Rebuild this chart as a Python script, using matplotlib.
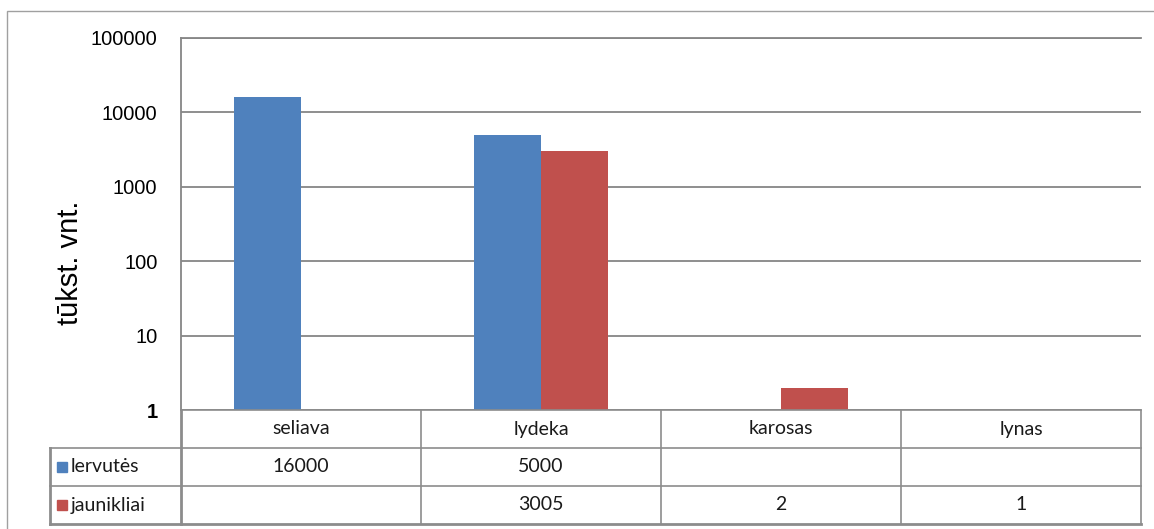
import matplotlib.pyplot as plt
import numpy as np

# data
categories = ["seliava", "lydeka", "karosas", "lynas"]
series_names = ["lervutės", "jaunikliai"]
lervutes = [16000, 5000, None, None]
jaunikliai = [None, 3005, 2, 1]
yticks = [1, 10, 100, 1000, 10000, 100000]

colors = ["#4F81BD", "#C0504D"]
grid_c = "#868686"
W, H = 1154, 529

fig = plt.figure(figsize=(W / 100, H / 100), dpi=100)

# outer chart border
fig.patches.append(plt.Rectangle((7 / W, -0.02), 1.05, 1 - 11 / H + 0.02,
                                 transform=fig.transFigure, fill=False,
                                 edgecolor="#a0a0a0", linewidth=1))

x0, x1, ytop, ybot = 181, 1141, 38, 410
ax = fig.add_axes([x0 / W, 1 - ybot / H, (x1 - x0) / W, (ybot - ytop) / H])

x = np.arange(len(categories))
bw = 0.28
for i, vals in enumerate([lervutes, jaunikliai]):
    v = np.array([np.nan if a is None else a for a in vals], dtype=float)
    ax.bar(x + (i - 0.5) * bw, v - 1, bottom=1, width=bw, color=colors[i])

ax.set_yscale("log")
ax.set_ylim(1, 100000)
ax.set_xlim(-0.5, len(categories) - 0.5)
ax.set_yticks(yticks)
ax.set_yticklabels([str(t) for t in yticks], family="Liberation Sans", fontsize=14.5)
ax.get_yticklabels()[0].set_fontweight("bold")
ax.minorticks_off()
ax.tick_params(axis="y", length=0, pad=17)
ax.tick_params(axis="x", length=0, labelbottom=False)
ax.yaxis.grid(True, color=grid_c, linewidth=1.3)
ax.set_axisbelow(True)
for s in ["right", "bottom"]:
    ax.spines[s].set_visible(False)
ax.spines["left"].set_color(grid_c)
ax.spines["left"].set_linewidth(1.3)
ax.spines["top"].set_color(grid_c)
ax.spines["top"].set_linewidth(1.3)

fig.text(70 / W, 1 - 263 / H, "tūkst. vnt.", rotation=90, ha="center", va="center",
         family="Liberation Sans", fontsize=21)

# data table
tx0, tlab, ty0, tyh, tyr1, tyb = 50, 181, 410, 448, 486, 524
tab = fig.add_axes([0, 0, 1, 1], facecolor="none")
tab.set_xlim(0, W)
tab.set_ylim(H, 0)
tab.axis("off")
col_w = (x1 - tlab) / len(categories)
lc = "#8c8c8c"
# horizontal lines
tab.plot([tlab, x1], [ty0, ty0], color=lc, lw=1.2)
tab.plot([tx0, x1], [tyh, tyh], color=lc, lw=1.2)
tab.plot([tx0, x1], [tyr1, tyr1], color=lc, lw=1.2)
tab.plot([tx0, x1], [tyb, tyb], color=lc, lw=2)
# vertical lines
tab.plot([tx0, tx0], [tyh, tyb], color=lc, lw=2)
tab.plot([tlab, tlab], [ty0, tyb], color=lc, lw=2)
for j in range(1, len(categories) + 1):
    xv = tlab + j * col_w
    tab.plot([xv, xv], [ty0, tyb], color=lc, lw=1.2)

tfont = dict(family="Lato", fontsize=14, color="#1a1a1a", ha="center", va="center")
for j, c in enumerate(categories):
    tab.text(tlab + (j + 0.5) * col_w, (ty0 + tyh) / 2, c, **tfont)
rows = [(tyh, tyr1), (tyr1, tyb)]
for i, vals in enumerate([lervutes, jaunikliai]):
    yc = sum(rows[i]) / 2
    tab.add_patch(plt.Rectangle((57, yc - 5), 10, 10, color=colors[i]))
    tab.text(71, yc, series_names[i], family="Lato", fontsize=14, color="#1a1a1a",
             ha="left", va="center")
    for j, v in enumerate(vals):
        if v is not None:
            tab.text(tlab + (j + 0.5) * col_w, yc, str(v), **tfont)

fig.savefig("out.png", dpi=100)
